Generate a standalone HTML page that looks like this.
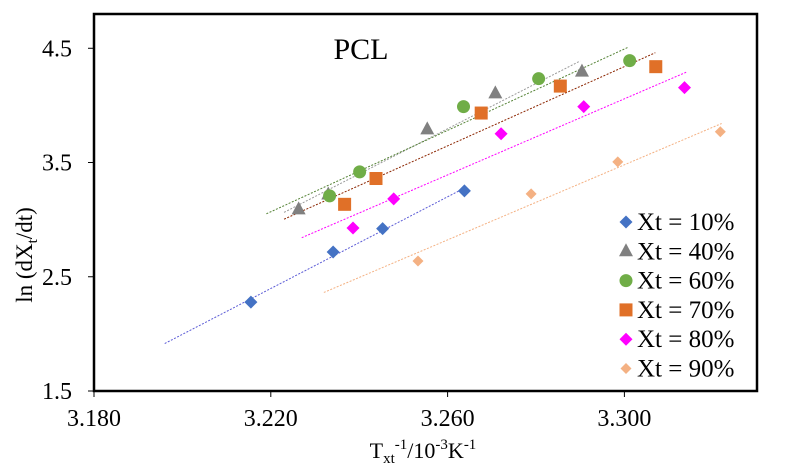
<!DOCTYPE html>
<html><head><meta charset="utf-8">
<style>
html,body{margin:0;padding:0;background:#fff;}
svg{display:block;font-family:"Liberation Serif",serif;}
</style></head>
<body>
<svg id="chart" width="798" height="467" viewBox="0 0 798 467" xmlns="http://www.w3.org/2000/svg">
<rect x="0" y="0" width="798" height="467" fill="#fff"/>
<g id="plot"></g>
<rect x="94" y="14" width="663" height="377" fill="none" stroke="#000" stroke-width="2.5"/>
<text x="361" y="59" font-size="30" text-anchor="middle">PCL</text>
<text transform="translate(32,255) rotate(-90)" font-size="23" text-anchor="middle">ln (dX<tspan font-size="15" dy="5">t</tspan><tspan dy="-5">/dt)</tspan></text>
<text x="423" y="458" font-size="22" text-anchor="middle">T<tspan font-size="15" dy="5">xt</tspan><tspan font-size="15" dy="-14">-1</tspan><tspan dy="9">/10</tspan><tspan font-size="15" dy="-9">-3</tspan><tspan dy="9">K</tspan><tspan font-size="15" dy="-9">-1</tspan></text>
<g id="legend"></g>
</svg>
<script>
const xTicks = [3.180, 3.220, 3.260, 3.300];
const yTicks = [1.5, 2.5, 3.5, 4.5];
const seriesNames = ["Xt = 10%", "Xt = 40%", "Xt = 60%", "Xt = 70%", "Xt = 80%", "Xt = 90%"];
const x10 = [3.2155, 3.2341, 3.2453, 3.2638];
const y10 = [2.278, 2.717, 2.921, 3.252];
const x40 = [3.2263, 3.2330, 3.2554, 3.2708, 3.2904];
const y40 = [3.09, 3.22, 3.79, 4.105, 4.296];
const x60 = [3.2333, 3.2401, 3.2636, 3.2806, 3.3012];
const y60 = [3.208, 3.418, 3.989, 4.234, 4.392];
const x70 = [3.2367, 3.2438, 3.2676, 3.2855, 3.3071];
const y70 = [3.134, 3.36, 3.933, 4.169, 4.339];
const x80 = [3.2386, 3.2478, 3.2721, 3.2908, 3.3136];
const y80 = [2.927, 3.182, 3.752, 3.989, 4.155];
const x90 = [3.2533, 3.2789, 3.2985, 3.3217];
const y90 = [2.638, 3.225, 3.506, 3.769];
const trendStart = [3.196, 3.223, 3.219, 3.223, 3.227, 3.232];
const trendEnd = [3.264, 3.290, 3.301, 3.307, 3.314, 3.322];

const X0 = 94, X1 = 757, Y0 = 391, Y1 = 14;
const xmin = 3.18, xmax = 3.33, ymin = 1.5, ymax = 4.8;
function sx(v){ return X0 + (v - xmin) / (xmax - xmin) * (X1 - X0); }
function sy(v){ return Y0 - (v - ymin) / (ymax - ymin) * (Y0 - Y1); }

const NS = "http://www.w3.org/2000/svg";
const plot = document.getElementById("plot");
const legend = document.getElementById("legend");
function mk(tag, attrs, parent){
  const e = document.createElementNS(NS, tag);
  for (const k in attrs) e.setAttribute(k, attrs[k]);
  parent.appendChild(e);
  return e;
}

xTicks.forEach(function(t){
  const px = sx(t);
  const tk = mk("line", {x1: px, x2: px, y1: Y0, y2: Y0 + 6, stroke: "#000", "stroke-width": 1}, plot);
  
  
  const lb = mk("text", {x: px, y: 426, "font-size": 24, "text-anchor": "middle"}, plot);
  lb.textContent = t.toFixed(3);
  
  
});
yTicks.forEach(function(t){
  const py = sy(t);
  const tk = mk("line", {x1: X0 - 6, x2: X0, y1: py, y2: py, stroke: "#000", "stroke-width": 1}, plot);
  
  
  const lb = mk("text", {x: 72, y: py + 8, "font-size": 24, "text-anchor": "end"}, plot);
  lb.textContent = t.toFixed(1);
  
  
});

const xs = [x10, x40, x60, x70, x80, x90];
const ys = [y10, y40, y60, y70, y80, y90];
const markerColors = ["#4472C4", "#808080", "#70AD47", "#E07028", "#FF00FF", "#F4B183"];
const lineColors = ["#5b5bd6", "#9a9a9a", "#548235", "#8B2500", "#FF00FF", "#F4B183"];
const shapes = ["diamond", "triangle", "circle", "square", "diamond", "diamondSmall"];

function drawMarker(shape, cx, cy, color, parent){
  let e;
  if (shape === "diamond" || shape === "diamondSmall"){
    const r = shape === "diamond" ? 6.5 : 5.5;
    e = mk("polygon", {points: [cx, cy - r, cx + r, cy, cx, cy + r, cx - r, cy].join(" "), fill: color}, parent);
  } else if (shape === "triangle"){
    e = mk("polygon", {points: [cx, cy - 8, cx + 7, cy + 5, cx - 7, cy + 5].join(" "), fill: color}, parent);
  } else if (shape === "circle"){
    e = mk("circle", {cx: cx, cy: cy, r: 6.5, fill: color}, parent);
  } else {
    e = mk("rect", {x: cx - 6.5, y: cy - 6.5, width: 13, height: 13, fill: color}, parent);
  }
  return e;
}

xs.forEach(function(xa, i){
  const ya = ys[i];
  const n = xa.length;
  let mx = 0, my = 0;
  for (let k = 0; k < n; k++){ mx += xa[k]; my += ya[k]; }
  mx /= n; my /= n;
  let sxy = 0, sxx = 0;
  for (let k = 0; k < n; k++){ sxy += (xa[k] - mx) * (ya[k] - my); sxx += (xa[k] - mx) * (xa[k] - mx); }
  const b = sxy / sxx, a = my - b * mx;
  const ln = mk("line", {x1: sx(trendStart[i]), y1: sy(a + b * trendStart[i]), x2: sx(trendEnd[i]), y2: sy(a + b * trendEnd[i]), stroke: lineColors[i], "stroke-width": 1, "stroke-dasharray": "2,1.5"}, plot);
  
  
});
xs.forEach(function(xa, i){
  xa.forEach(function(v, k){
    const m = drawMarker(shapes[i], sx(v), sy(ys[i][k]), markerColors[i], plot);
    
    
  });
});

seriesNames.forEach(function(name, i){
  const cy = 222 + i * 29.3;
  const m = drawMarker(shapes[i], 626, cy, markerColors[i], legend);
  
  
  const t = mk("text", {x: 637, y: cy + 8, "font-size": 25}, legend);
  t.textContent = name;
  
  
});
</script>
</body></html>
